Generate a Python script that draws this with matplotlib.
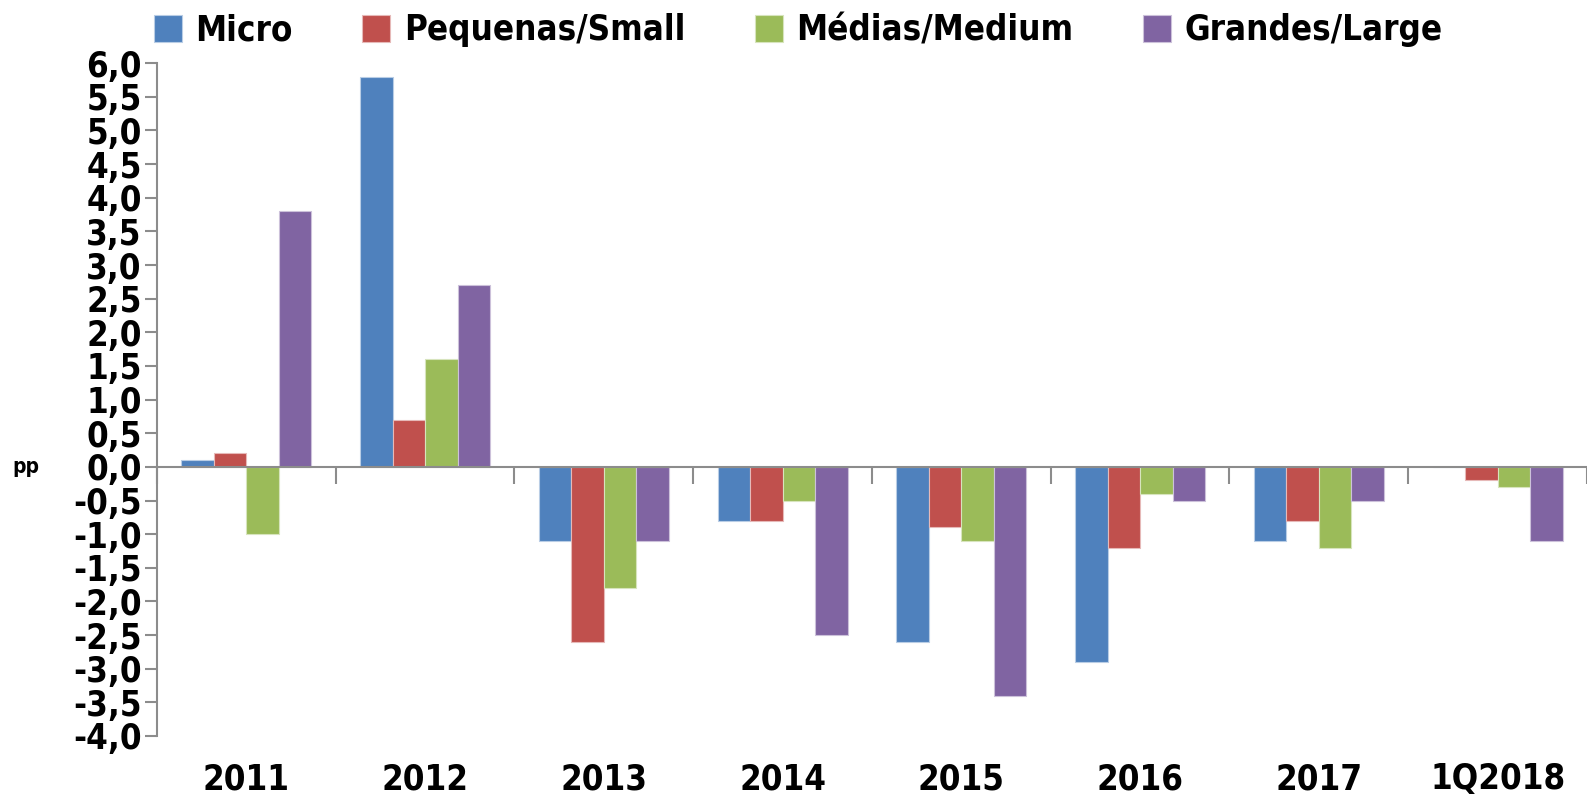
import matplotlib
matplotlib.use("Agg")
import matplotlib.pyplot as plt
import matplotlib.transforms as mtransforms
import numpy as np

categories = ["2011", "2012", "2013", "2014", "2015", "2016", "2017", "1Q2018"]
series_names = ["Micro", "Pequenas/Small", "Médias/Medium", "Grandes/Large"]
micro = [0.1, 5.8, -1.1, -0.8, -2.6, -2.9, -1.1, 0.0]
small = [0.2, 0.7, -2.6, -0.8, -0.9, -1.2, -0.8, -0.2]
medium = [-1.0, 1.6, -1.8, -0.5, -1.1, -0.4, -1.2, -0.3]
large = [3.8, 2.7, -1.1, -2.5, -3.4, -0.5, -0.5, -1.1]
colors = ["#4F81BD", "#C0504D", "#9BBB59", "#8064A2"]
edges = ["#B9CDE5", "#E6B9B8", "#D7E4BD", "#CCC1DA"]

plt.rcParams['font.family'] = ['DejaVu Sans']
plt.rcParams['font.weight'] = 'bold'
plt.rcParams['font.stretch'] = 'condensed'

fig = plt.figure(figsize=(15.87, 8.0), dpi=100)
ax = fig.add_axes([0.0989, 0.08, 0.9011, 0.841])

x = np.arange(len(categories))
n = 4
w = 1 / (n + 1.5)
for i, vals in enumerate([micro, small, medium, large]):
    ax.bar(x + (i - (n - 1) / 2) * w, vals, w, color=colors[i], edgecolor=edges[i],
           linewidth=0.8, label=series_names[i], zorder=2)

ax.set_xlim(-0.5, len(categories) - 0.5)
ax.set_ylim(-4.0, 6.0)
yt = np.arange(-4.0, 6.01, 0.5)
ax.set_yticks(yt)
ax.set_yticklabels([f"{v:.1f}".replace(".", ",") for v in yt], fontsize=25, fontweight='bold')

for s in ["top", "right"]:
    ax.spines[s].set_visible(False)
ax.spines["left"].set_color("#8C8C8C")
ax.spines["left"].set_linewidth(1.5)
ax.spines["bottom"].set_position(("data", 0))
ax.spines["bottom"].set_color("#8C8C8C")
ax.spines["bottom"].set_linewidth(1.5)
ax.spines["bottom"].set_zorder(3)
ax.tick_params(axis="y", direction="out", length=9, width=1.5, color="#8C8C8C", pad=2)
ax.set_xticks(np.arange(len(categories) + 1) - 0.5)
ax.set_xticklabels([])
ax.tick_params(axis="x", direction="out", length=12, width=1.5, color="#8C8C8C")

sec = ax.secondary_xaxis("bottom")
sec.set_xticks(x)
sec.set_xticklabels(categories, fontsize=25, fontweight='bold')
sec.tick_params(length=0, pad=19)
sec.spines["bottom"].set_visible(False)

trans = mtransforms.blended_transform_factory(fig.transFigure, ax.transData)
ax.text(0.008, 0, "pp", transform=trans, fontsize=15, fontweight='bold',
        ha="left", va="center")

fig.legend(loc="upper center", bbox_to_anchor=(0.503, 1.005), ncol=4, frameon=False,
           fontsize=25, handlelength=0.8, handleheight=0.8, handletextpad=0.4,
           columnspacing=2.0, borderaxespad=0.1)

fig.savefig("out.png", dpi=100)
